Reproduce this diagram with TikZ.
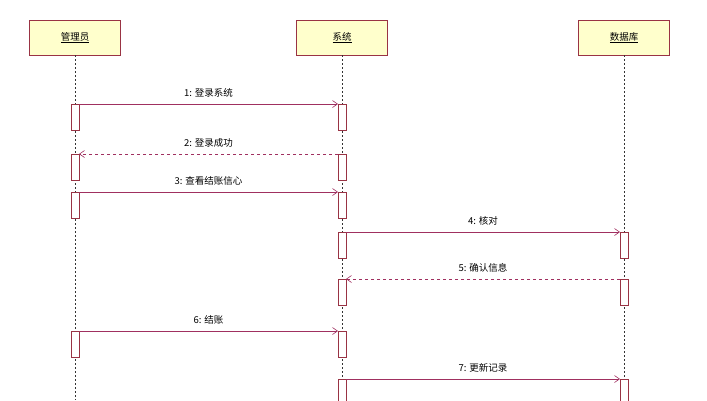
\documentclass[tikz,border=0pt]{standalone}
\usepackage{fontspec}
\setmainfont{Noto Sans CJK SC}
\usetikzlibrary{arrows.meta}
\definecolor{bd}{HTML}{993344}
\definecolor{fl}{HTML}{FFFFCC}
\definecolor{ar}{HTML}{A03060}
\begin{document}
\begin{tikzpicture}[x=1pt,y=-1pt,
 obj/.style={draw=bd,fill=fl,minimum width=91pt,minimum height=35pt,inner sep=0pt,font=\fontsize{9.5}{10}\selectfont},
 life/.style={dash pattern=on 2pt off 2pt,black!80,line width=0.5pt},
 act/.style={draw=bd,fill=white,line width=0.6pt},
 msg/.style={ar,line width=0.6pt,-{Straight Barb[length=5pt,width=7pt]}},
 ret/.style={msg,dashed},
 lbl/.style={black,font=\fontsize{9.5}{10}\selectfont,above=3pt}]
\useasboundingbox (0,0) rectangle (707,400);
\node[obj] (A) at (75,37.5) {\underline{管理员}};
\node[obj] (S) at (342,37.5) {\underline{系统}};
\node[obj] (D) at (624,37.5) {\underline{数据库}};
\coordinate (Ae) at (75,400); \coordinate (Se) at (342,400); \coordinate (De) at (624,400);
\draw[life] (A.south) -- (Ae);
\draw[life] (S.south) -- (Se);
\draw[life] (D.south) -- (De);
\foreach \x/\a/\b in {75/104/130,342/104/130,75/154/180,342/154/180,75/192/218,342/192/218,342/232/258,624/232/258,624/279/305,342/279/305,75/331/357,342/331/357,342/379/405,624/379/405}
  \draw[act] (\x-4,\a) rectangle (\x+4,\b);
\coordinate (a1) at (79,104); \coordinate (s1) at (338,104);
\coordinate (s2) at (338,154); \coordinate (a2) at (79,154);
\coordinate (a3) at (79,192); \coordinate (s3) at (338,192);
\coordinate (s4) at (346,232); \coordinate (d4) at (620,232);
\coordinate (d5) at (620,279); \coordinate (s5) at (346,279);
\coordinate (a6) at (79,331); \coordinate (s6) at (338,331);
\coordinate (s7) at (346,379); \coordinate (d7) at (620,379);
\draw[msg] (a1) -- node[lbl]{1: 登录系统} (s1);
\draw[ret] (s2) -- node[lbl]{2: 登录成功} (a2);
\draw[msg] (a3) -- node[lbl]{3: 查看结账信心} (s3);
\draw[msg] (s4) -- node[lbl]{4: 核对} (d4);
\draw[ret] (d5) -- node[lbl]{5: 确认信息} (s5);
\draw[msg] (a6) -- node[lbl]{6: 结账} (s6);
\draw[msg] (s7) -- node[lbl]{7: 更新记录} (d7);
\end{tikzpicture}
\end{document}
